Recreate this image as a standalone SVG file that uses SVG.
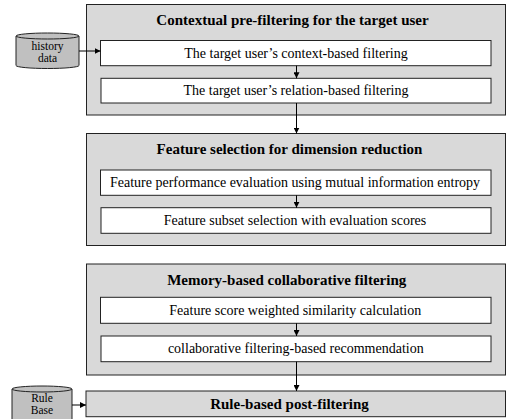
<svg xmlns="http://www.w3.org/2000/svg" width="508" height="419" viewBox="0 0 508 419">
<style>
.outer{fill:#d9d9d9;stroke:#222;stroke-width:1}
.inner{fill:#fff;stroke:#222;stroke-width:1}
.cyl{fill:#c0c0c0;stroke:#222;stroke-width:1}
.t{font-family:"Liberation Serif","Times New Roman",serif;font-size:14px;fill:#000;text-anchor:middle}
.b{font-weight:bold;font-size:15px}
.s{font-size:11.5px}
.c{stroke:#000;stroke-width:1;fill:none;marker-end:url(#ah)}
</style>
<defs>
<marker id="ah" viewBox="0 0 10 10" refX="10" refY="5" markerWidth="6" markerHeight="6" markerUnits="userSpaceOnUse" orient="auto">
<path d="M0,0 L10,5 L0,10 z" fill="#000"/>
</marker>
</defs>
<rect width="508" height="419" fill="#fff"/>
<g id="history">
<path class="cyl" d="M16,36 A31.5,3 0 0 1 79,36 L79,65.5 A31.5,3 0 0 1 16,65.5 Z"/>
<path d="M16,36 A31.5,3 0 0 0 79,36" fill="none" stroke="#222"/>
<text class="t s" x="47.5" y="50">history</text>
<text class="t s" x="47.5" y="61.7">data</text>
</g>
<g id="rulebase">
<path class="cyl" d="M12,389 A30,3 0 0 1 72,389 L72,425 L12,425 Z"/>
<path d="M12,389 A30,3 0 0 0 72,389" fill="none" stroke="#222"/>
<text class="t s" x="42" y="401.7">Rule</text>
<text class="t s" x="42" y="414.3">Base</text>
</g>
<g id="stage1">
<rect class="outer" x="86.5" y="4.5" width="419" height="110.5"/>
<text class="t b" x="292.5" y="25">Contextual pre-filtering for the target user</text>
</g>
<g id="context-filter">
<rect class="inner" x="100.5" y="40.5" width="390.5" height="25.2"/>
<text class="t" x="296" y="58">The target user’s context-based filtering</text>
</g>
<g id="relation-filter">
<rect class="inner" x="101" y="78.3" width="390" height="24.7"/>
<text class="t" x="296" y="95">The target user’s relation-based filtering</text>
</g>
<g id="stage2">
<rect class="outer" x="86.5" y="133.5" width="419" height="112"/>
<text class="t b" x="289.5" y="153.5">Feature selection for dimension reduction</text>
</g>
<g id="feat-eval">
<rect class="inner" x="100.5" y="170" width="390.5" height="25.3"/>
<text class="t" x="295" y="187">Feature performance evaluation using mutual information entropy</text>
</g>
<g id="feat-subset">
<rect class="inner" x="101" y="207.7" width="390" height="25.6"/>
<text class="t" x="295" y="225">Feature subset selection with evaluation scores</text>
</g>
<g id="stage3">
<rect class="outer" x="86.5" y="264" width="419" height="111"/>
<text class="t b" x="286.7" y="285">Memory-based collaborative filtering</text>
</g>
<g id="similarity">
<rect class="inner" x="100.5" y="297.3" width="390.5" height="26"/>
<text class="t" x="295.3" y="314.5">Feature score weighted similarity calculation</text>
</g>
<g id="cf-rec">
<rect class="inner" x="101" y="336" width="390" height="25.7"/>
<text class="t" x="295.8" y="353">collaborative filtering-based recommendation</text>
</g>
<g id="stage4">
<rect class="outer" x="86" y="391" width="419.5" height="25.7"/>
<text class="t b" x="289.5" y="408.5">Rule-based post-filtering</text>
</g>
<g id="connectors">
<line class="c" x1="79" y1="51" x2="100.5" y2="51"/>
<line class="c" x1="72" y1="405" x2="86" y2="405"/>
<line class="c" x1="296.5" y1="65.7" x2="296.5" y2="78.3"/>
<line class="c" x1="296.5" y1="103" x2="296.5" y2="133.5"/>
<line class="c" x1="296.5" y1="195.3" x2="296.5" y2="207.7"/>
<line class="c" x1="296.5" y1="323.3" x2="296.5" y2="336"/>
<line class="c" x1="296.5" y1="361.7" x2="296.5" y2="391"/>
</g>
</svg>
